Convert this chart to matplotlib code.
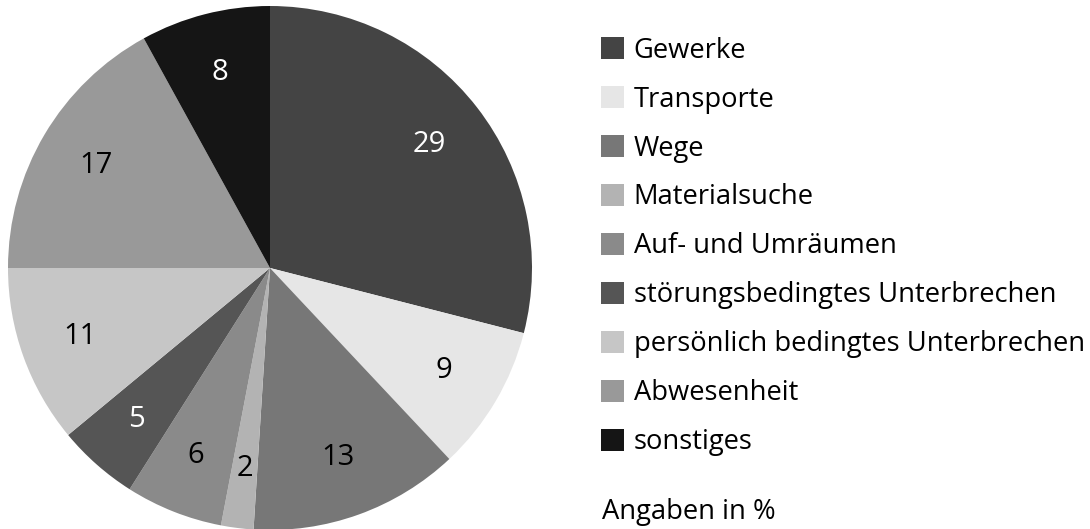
import matplotlib
matplotlib.use("Agg")
import matplotlib.pyplot as plt

# data (Angaben in %)
categories = ["Gewerke", "Transporte", "Wege", "Materialsuche", "Auf- und Umräumen",
              "störungsbedingtes Unterbrechen", "persönlich bedingtes Unterbrechen",
              "Abwesenheit", "sonstiges"]
values = [29, 9, 13, 2, 6, 5, 11, 17, 8]
colors = ["#444444", "#e6e6e6", "#777777", "#b3b3b3", "#8a8a8a",
          "#555555", "#c6c6c6", "#999999", "#151515"]
label_colors = ["white", "black", "black", "black", "black",
                "white", "black", "black", "white"]

plt.rcParams["font.family"] = ["Open Sans", "DejaVu Sans"]

W, H = 1090, 529
fig = plt.figure(figsize=(W / 100, H / 100), dpi=100)

# pie centre (270, 268) px from top-left, radius 262 px
cx, cy, r = 270, 268, 262
ax = fig.add_axes([(cx - r) / W, (H - cy - r) / H, 2 * r / W, 2 * r / H])

wedges, texts = ax.pie(values, colors=colors, startangle=90, counterclock=False,
                       labels=[str(v) for v in values], labeldistance=0.77,
                       wedgeprops=dict(linewidth=0))
for t, c in zip(texts, label_colors):
    t.set_color(c)
    t.set_fontsize(21)
    t.set_ha("center")
    t.set_va("center")
ax.set_xlim(-1, 1)
ax.set_ylim(-1, 1)
ax.set_aspect("equal")
for w in wedges:
    w.set_clip_on(False)

leg = fig.legend(wedges, categories, loc="upper left",
                 bbox_to_anchor=(587 / W, 1 - 23 / H), frameon=False,
                 fontsize=19.7, handlelength=0.85, handleheight=0.85,
                 handletextpad=0.35, labelspacing=0.765, borderpad=0)

fig.text(602 / W, 1 - 512 / H, "Angaben in %", fontsize=19.7, va="center", ha="left")

fig.savefig("out.png", dpi=100, facecolor="white")
